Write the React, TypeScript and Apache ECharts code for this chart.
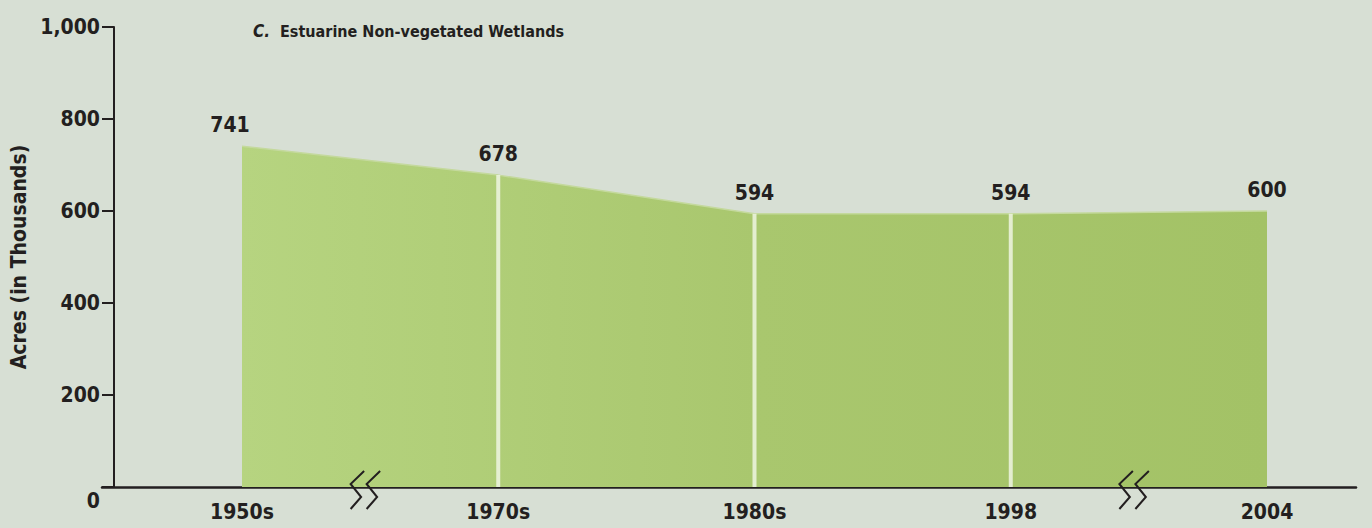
import React, { useEffect, useRef } from "react";
import * as echarts from "echarts";

const categories = ["1950s", "1970s", "1980s", "1998", "2004"];
const acres = [741, 678, 594, 594, 600];
const dividerValues = [null, 678, 594, 594, null];
const yTicks = [0, 200, 400, 600, 800, 1000];
const titleLetter = "C.";
const titleText = "Estuarine Non-vegetated Wetlands";
const yAxisTitle = "Acres (in Thousands)";
const breakAfterIndex = [0, 3];

const FONT = "'Liberation Sans Narrow', 'DejaVu Sans Condensed', 'Arial Narrow', sans-serif";
const INK = "#231f20";
const LABEL_SIZE = 21;

export default function App() {
  const ref = useRef<HTMLDivElement>(null);

  useEffect(() => {
    if (!ref.current) return;
    const chart = echarts.init(ref.current, null, { renderer: "svg" });

    const labelOffsets: number[][] = [[-12, 0], [0, 0], [0, 0], [0, 0], [0, 0]];
    const data = acres.map((v, i) => ({
      value: v,
      label: { offset: labelOffsets[i] },
    }));

    chart.setOption({
      animation: false,
      backgroundColor: "#d7dfd4",
      title: {
        left: 248,
        top: 17,
        text: `{i|${titleLetter}}  {b|${titleText}}`,
        textStyle: {
          rich: {
            i: { fontFamily: FONT, fontWeight: "bold", fontStyle: "italic", fontSize: 17, color: INK },
            b: { fontFamily: FONT, fontWeight: "bold", fontSize: 16, color: INK },
          },
        },
      },
      grid: [
        { left: 242, right: 105, top: 27, bottom: 41 },
        { left: 102, right: 16, top: 27, bottom: 41 },
      ],
      xAxis: [
        {
          type: "category",
          gridIndex: 0,
          data: categories,
          boundaryGap: false,
          axisLine: { show: false },
          axisTick: { show: false },
          splitLine: { show: false },
          axisLabel: {
            margin: 14,
            fontFamily: FONT,
            fontWeight: "bold",
            fontSize: LABEL_SIZE,
            color: INK,
          },
        },
        {
          type: "value",
          gridIndex: 1,
          min: 0,
          max: 1,
          axisLine: { show: true, onZero: false, lineStyle: { color: INK, width: 2.5 } },
          axisTick: { show: false },
          axisLabel: { show: false },
          splitLine: { show: false },
        },
      ],
      yAxis: [
        {
          type: "value",
          gridIndex: 0,
          min: yTicks[0],
          max: yTicks[yTicks.length - 1],
          interval: yTicks[1] - yTicks[0],
          offset: 128,
          name: yAxisTitle,
          nameLocation: "middle",
          nameGap: 81,
          nameTextStyle: { fontFamily: FONT, fontWeight: "bold", fontSize: 21, color: INK },
          axisLine: { show: true, lineStyle: { color: INK, width: 2 } },
          axisTick: { show: true, length: 12, lineStyle: { color: INK, width: 2 } },
          splitLine: { show: false },
          axisLabel: {
            margin: 14,
            fontFamily: FONT,
            fontWeight: "bold",
            fontSize: LABEL_SIZE,
            color: INK,
            formatter: (v: number) => (v === 0 ? "{z|0}" : v.toLocaleString("en-US")),
            rich: {
              z: { padding: [28, 0, 0, 0], fontFamily: FONT, fontWeight: "bold", fontSize: LABEL_SIZE, color: INK },
            },
          },
        },
        {
          type: "value",
          gridIndex: 1,
          min: 0,
          max: 1,
          show: false,
        },
      ],
      series: [
        {
          type: "line",
          xAxisIndex: 0,
          yAxisIndex: 0,
          data,
          showSymbol: true,
          symbol: "circle",
          symbolSize: 1,
          itemStyle: { color: "rgba(0,0,0,0)" },
          lineStyle: { width: 1.5, color: "#c4d99d" },
          areaStyle: {
            opacity: 1,
            color: new echarts.graphic.LinearGradient(0, 0, 1, 0, [
              { offset: 0, color: "#b6d480" },
              { offset: 0.5, color: "#a9c76e" },
              { offset: 1, color: "#a3c266" },
            ]),
          },
          label: {
            show: true,
            position: "top",
            distance: 10,
            fontFamily: FONT,
            fontWeight: "bold",
            fontSize: LABEL_SIZE,
            color: INK,
          },
          z: 2,
        },
        {
          type: "bar",
          xAxisIndex: 0,
          yAxisIndex: 0,
          data: dividerValues,
          barWidth: 4,
          itemStyle: { color: "rgba(238,244,226,0.85)" },
          silent: true,
          z: 3,
        },
      ],
    });

    const baseY = chart.convertToPixel({ yAxisIndex: 0 }, 0) as number;
    const graphics: any[] = [];
    breakAfterIndex.forEach((idx) => {
      const a = chart.convertToPixel({ xAxisIndex: 0 }, categories[idx]) as number;
      const b = chart.convertToPixel({ xAxisIndex: 0 }, categories[idx + 1]) as number;
      const m = (a + b) / 2 - 6;
      [0, 16].forEach((dx) => {
        graphics.push({
          type: "polyline",
          z: 10,
          shape: {
            points: [
              [m + dx + 0, baseY - 16],
              [m + dx - 13.5, baseY - 3],
              [m + dx - 3, baseY + 10],
              [m + dx - 13.5, baseY + 22],
            ],
          },
          style: { stroke: INK, lineWidth: 2, fill: null },
        });
      });
    });
    chart.setOption({ graphic: graphics });

    return () => chart.dispose();
  }, []);

  return (
    <div
      ref={ref}
      style={{ position: "absolute", left: 0, top: 0, width: 1372, height: 528 }}
    />
  );
}
